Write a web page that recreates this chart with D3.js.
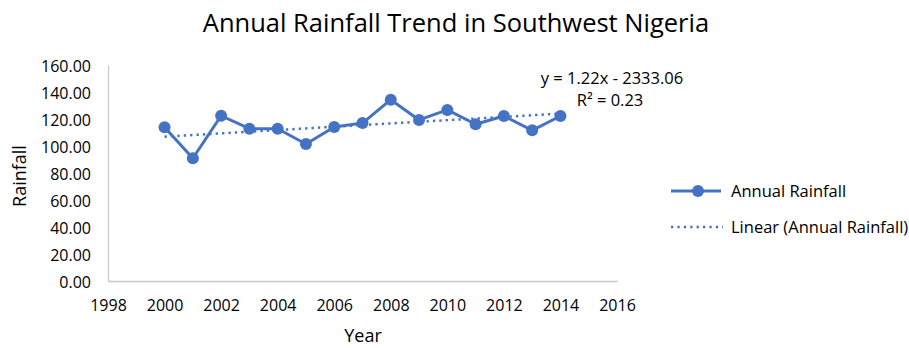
<!DOCTYPE html>
<html>
<head>
<meta charset="utf-8">
<script src="https://cdn.jsdelivr.net/npm/d3@7"></script>
<style>
  html, body { margin: 0; padding: 0; background: #fff; }
  svg text { font-family: "Open Sans", "Noto Sans", sans-serif; fill: #000; }
</style>
</head>
<body>
<svg id="chart" width="909" height="348"></svg>
<script>
// Annual rainfall, Southwest Nigeria
const years = [2000, 2001, 2002, 2003, 2004, 2005, 2006, 2007, 2008, 2009, 2010, 2011, 2012, 2013, 2014];
const rainfall = [113.9, 90.9, 122.4, 112.8, 112.8, 101.5, 114.1, 117.0, 134.3, 119.3, 126.7, 116.1, 122.2, 111.6, 122.2];
const xTicks = [1998, 2000, 2002, 2004, 2006, 2008, 2010, 2012, 2014, 2016];
const yTicks = [0, 20, 40, 60, 80, 100, 120, 140, 160];
// Linear trend as reported: y = 1.22x - 2333.06, R² = 0.23
const trendSlope = 1.22;
const trendIntercept = -2333.06;
const trendR2 = 0.23;

const blue = "#4472C4";
const axisGray = "#c8c8c8";
const dotted = "2.3,4.1";

const svg = d3.select("#chart");
const x = d3.scaleLinear().domain([1998, 2016]).range([108, 617]);
const y = d3.scaleLinear().domain([0, 160]).range([281, 65]);

// Title
svg.append("text")
  .attr("x", 456).attr("y", 32)
  .attr("text-anchor", "middle")
  .style("font-size", "25.5px")
  .text("Annual Rainfall Trend in Southwest Nigeria");

// Y axis
const yAxis = svg.append("g")
  .attr("transform", `translate(${x.range()[0]},0)`)
  .call(d3.axisLeft(y).tickValues(yTicks).tickFormat(d3.format(".2f")).tickSize(0).tickPadding(17));
yAxis.select(".domain").attr("stroke", axisGray).attr("stroke-width", 1.3);
yAxis.selectAll("text").style("font-size", "16px").attr("dy", "0.38em");

// X axis
const xAxis = svg.append("g")
  .attr("transform", `translate(0,${y.range()[0]})`)
  .call(d3.axisBottom(x).tickValues(xTicks).tickFormat(d3.format("d")).tickSize(0).tickPadding(19));
xAxis.select(".domain").attr("stroke", axisGray).attr("stroke-width", 1.3);
xAxis.selectAll("text").style("font-size", "16px");

// Axis titles
svg.append("text")
  .attr("x", 363).attr("y", 342)
  .attr("text-anchor", "middle")
  .style("font-size", "18px")
  .text("Year");
svg.append("text")
  .attr("transform", "translate(26,176) rotate(-90)")
  .attr("text-anchor", "middle")
  .style("font-size", "18px")
  .text("Rainfall");

const data = years.map((yr, i) => ({ year: yr, value: rainfall[i] }));

// Trend line
const trendYears = [years[0], years[years.length - 1]];
svg.append("path")
  .datum(trendYears)
  .attr("fill", "none")
  .attr("stroke", blue)
  .attr("stroke-width", 2.5)
  .attr("stroke-dasharray", dotted)
  .attr("d", d3.line().x(d => x(d)).y(d => y(trendSlope * d + trendIntercept)));

// Series line
svg.append("path")
  .datum(data)
  .attr("fill", "none")
  .attr("stroke", blue)
  .attr("stroke-width", 3)
  .attr("stroke-linejoin", "round")
  .attr("d", d3.line().x(d => x(d.year)).y(d => y(d.value)));

// Markers
svg.selectAll("circle.pt")
  .data(data)
  .join("circle")
  .attr("class", "pt")
  .attr("cx", d => x(d.year))
  .attr("cy", d => y(d.value))
  .attr("r", 6)
  .attr("fill", blue);

// Trend equation label
svg.append("text")
  .attr("x", 612).attr("y", 84)
  .attr("text-anchor", "middle")
  .style("font-size", "16.5px")
  .text(`y = ${trendSlope.toFixed(2)}x - ${Math.abs(trendIntercept).toFixed(2)}`);
svg.append("text")
  .attr("x", 610).attr("y", 106)
  .attr("text-anchor", "middle")
  .style("font-size", "16.5px")
  .text(`R² = ${trendR2.toFixed(2)}`);

// Legend
const legend = svg.append("g");
legend.append("line")
  .attr("x1", 671).attr("x2", 721).attr("y1", 191).attr("y2", 191)
  .attr("stroke", blue).attr("stroke-width", 3);
legend.append("circle").attr("cx", 698).attr("cy", 191).attr("r", 6).attr("fill", blue);
legend.append("text")
  .attr("x", 731).attr("y", 197)
  .style("font-size", "16.5px")
  .text("Annual Rainfall");
legend.append("line")
  .attr("x1", 671).attr("x2", 723).attr("y1", 227).attr("y2", 227)
  .attr("stroke", blue).attr("stroke-width", 2.5)
  .attr("stroke-dasharray", dotted);
legend.append("text")
  .attr("x", 731).attr("y", 233)
  .style("font-size", "16.5px")
  .text("Linear (Annual Rainfall)");
</script>
</body>
</html>
